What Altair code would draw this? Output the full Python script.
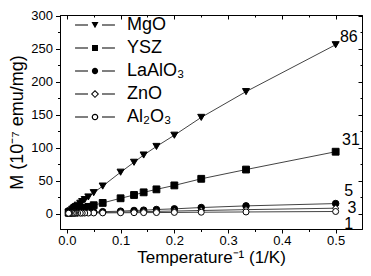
import altair as alt
import pandas as pd

# ---------------- data ----------------
series_names = ["MgO", "YSZ", "LaAlO₃", "ZnO", "Al₂O₃"]

inv_temp = [0.5, 0.3333, 0.25, 0.2, 0.1667, 0.1429, 0.125, 0.1, 0.0667, 0.05,
            0.04, 0.0333, 0.0286, 0.025, 0.02, 0.0167, 0.0143, 0.0125, 0.01,
            0.0067, 0.005, 0.004, 0.0033]

m_mgo = [256, 185, 146, 119, 102, 89, 78, 63, 42, 32,
         25.5, 21.5, 18.5, 16, 13, 11, 9.5, 8.3, 6.8, 4.5, 3.5, 2.8, 2.3]
m_ysz = [94, 67, 53, 43, 37, 32.5, 28.5, 23.5, 16.5, 13,
         10.5, 9, 8, 7, 5.8, 5, 4.4, 4, 3.3, 2.5, 2.1, 1.9, 1.7]
m_laalo3 = [15.5, 12, 9.5, 7.5, 6.5, 5.5, 5, 4, 3.2, 2.8,
            2.5, 2.3, 2.2, 2.1, 1.9, 1.8, 1.7, 1.7, 1.6, 1.5, 1.4, 1.4, 1.4]
m_zno = [8.5, 6.3, 5, 4.2, 3.7, 3.3, 3, 2.6, 2, 1.8,
         1.6, 1.5, 1.4, 1.35, 1.3, 1.25, 1.2, 1.2, 1.15, 1.1, 1.05, 1.05, 1.0]
m_al2o3 = [3.5, 2.8, 2.4, 2.1, 1.9, 1.8, 1.7, 1.6, 1.4, 1.3,
           1.2, 1.2, 1.1, 1.1, 1.05, 1.0, 1.0, 1.0, 0.95, 0.9, 0.9, 0.9, 0.9]

ratio_text = ["86", "31", "5", "3", "1"]
ratio_x = [0.508, 0.512, 0.516, 0.522, 0.516]
ratio_y = [268, 111, 35, 9, -16]

x_ticks = [0.0, 0.05, 0.1, 0.15, 0.2, 0.25, 0.3, 0.35, 0.4, 0.45, 0.5]
y_ticks = [0, 25, 50, 75, 100, 125, 150, 175, 200, 225, 250, 275, 300]

# ---------------- styling ----------------
FONT = "Liberation Sans"
W, H = 302, 214

pt_shapes = ["triangle-down", "square", "circle", "diamond", "circle"]
pt_fills = ["black", "black", "black", "white", "white"]
pt_sizes = [50, 36, 36, 46, 40]

line_l = "M-5.7,-0.15 L-2,-0.15 L-2,0.15 L-5.7,0.15 Z M2,-0.15 L5.7,-0.15 L5.7,0.15 L2,0.15 Z "
leg_paths = [
    line_l + "M-1,-0.85 L1,-0.85 L0,0.95 Z",
    line_l + "M-0.85,-0.85 L0.85,-0.85 L0.85,0.85 L-0.85,0.85 Z",
    line_l + "M0.9,0 A0.9,0.9 0 1,1 -0.9,0 A0.9,0.9 0 1,1 0.9,0 Z",
    line_l + "M0,-1.15 L1.15,0 L0,1.15 L-1.15,0 Z M0,-0.75 L-0.75,0 L0,0.75 L0.75,0 Z",
    line_l + "M0.95,0 A0.95,0.95 0 1,1 -0.95,0 A0.95,0.95 0 1,1 0.95,0 Z "
             "M0.6,0 A0.6,0.6 0 1,0 -0.6,0 A0.6,0.6 0 1,0 0.6,0 Z",
]

rows = []
for name, vals in zip(series_names, [m_mgo, m_ysz, m_laalo3, m_zno, m_al2o3]):
    for xv, yv in zip(inv_temp, vals):
        rows.append({"series": name, "x": xv, "y": yv})
df = pd.DataFrame(rows)
ann = pd.DataFrame({"t": ratio_text, "x": ratio_x, "y": ratio_y})

xs = alt.Scale(domain=[-0.0127, 0.549], nice=False, zero=False)
ys = alt.Scale(domain=[-23, 301], nice=False, zero=False)

minor_x = "round(datum.value*100) % 10 !== 0"
minor_y = "datum.value % 50 !== 0"

common_axis = dict(grid=False, domainColor="black", domainWidth=1, tickColor="black",
                   tickWidth=1, labelColor="black", labelFont=FONT, labelFontSize=13,
                   titleFont=FONT, titleColor="black", titleFontWeight="normal")

x_main = alt.Axis(values=x_ticks, orient="bottom",
                  labelExpr="round(datum.value*100) % 10 === 0 ? format(datum.value, '.1f') : ''",
                  tickSize={"condition": {"test": minor_x, "value": 2.5}, "value": 4},
                  labelPadding=1, titleFontSize=17, titlePadding=2, labelFlush=False,
                  labelOverlap=False, **common_axis)
y_main = alt.Axis(values=y_ticks, orient="left",
                  labelExpr="datum.value % 50 === 0 ? datum.label : ''",
                  tickSize={"condition": {"test": minor_y, "value": 2.5}, "value": 4.5},
                  labelPadding=3, titleFontSize=18, titlePadding=4, labelFlush=False,
                  labelOverlap=False, **common_axis)
x_top = alt.Axis(values=x_ticks, orient="bottom", offset=-H, labels=False, title=None,
                 tickSize={"condition": {"test": minor_x, "value": 2}, "value": 4},
                 **common_axis)
y_right = alt.Axis(values=y_ticks, orient="left", offset=-W, labels=False, title=None,
                   tickSize={"condition": {"test": minor_y, "value": 2}, "value": 4},
                   **common_axis)

X_TITLE = "Temperature⁻¹ (1/K)"
Y_TITLE = "M (10⁻⁷ emu/mg)"

lines = alt.Chart(df).mark_line(stroke="#444", strokeWidth=1).encode(
    x=alt.X("x:Q", scale=xs, axis=x_main, title=X_TITLE),
    y=alt.Y("y:Q", scale=ys, axis=y_main, title=Y_TITLE),
    detail="series:N",
)

points = alt.Chart(df).mark_point(filled=True, stroke="black", strokeWidth=1, opacity=1).encode(
    x=alt.X("x:Q", scale=xs, axis=None),
    y=alt.Y("y:Q", scale=ys, axis=None),
    shape=alt.Shape("series:N", scale=alt.Scale(domain=series_names, range=pt_shapes), legend=None),
    fill=alt.Fill("series:N", scale=alt.Scale(domain=series_names, range=pt_fills), legend=None),
    size=alt.Size("series:N", scale=alt.Scale(domain=series_names, range=pt_sizes), legend=None),
)

legend_layer = alt.Chart(df).transform_filter("false").mark_point(
    filled=True, color="black", strokeWidth=0, opacity=1
).encode(
    x=alt.X("x:Q", scale=xs, axis=None),
    y=alt.Y("y:Q", scale=ys, axis=None),
    shape=alt.Shape("series:N", scale=alt.Scale(domain=series_names, range=leg_paths),
                    legend=alt.Legend(orient="none", legendX=26, legendY=1, title=None,
                                      symbolSize=49, symbolStrokeWidth=0,
                                      symbolFillColor="black", symbolOpacity=1,
                                      labelFont=FONT, labelFontSize=18, labelColor="black",
                                      labelOffset=23, rowPadding=5, padding=0)),
)

frame = alt.Chart(df).transform_filter("false").mark_point().encode(
    x=alt.X("x:Q", scale=xs, axis=x_top),
    y=alt.Y("y:Q", scale=ys, axis=y_right),
)

labels = alt.Chart(ann).mark_text(align="left", baseline="middle", font=FONT,
                                  fontSize=16, color="black").encode(
    x=alt.X("x:Q", scale=xs, axis=None),
    y=alt.Y("y:Q", scale=ys, axis=None),
    text="t:N",
)

chart = alt.layer(lines, points, legend_layer, frame, labels).resolve_scale(
    shape="independent"
).resolve_axis(x="independent", y="independent").properties(
    width=W, height=H,
    autosize=alt.AutoSizeParams(type="none"),
    padding={"left": 52, "top": 7, "right": 1, "bottom": 39},
).configure_view(stroke="black", strokeWidth=1)

chart.save("out.html", embed_options={"renderer": "svg", "actions": False})
